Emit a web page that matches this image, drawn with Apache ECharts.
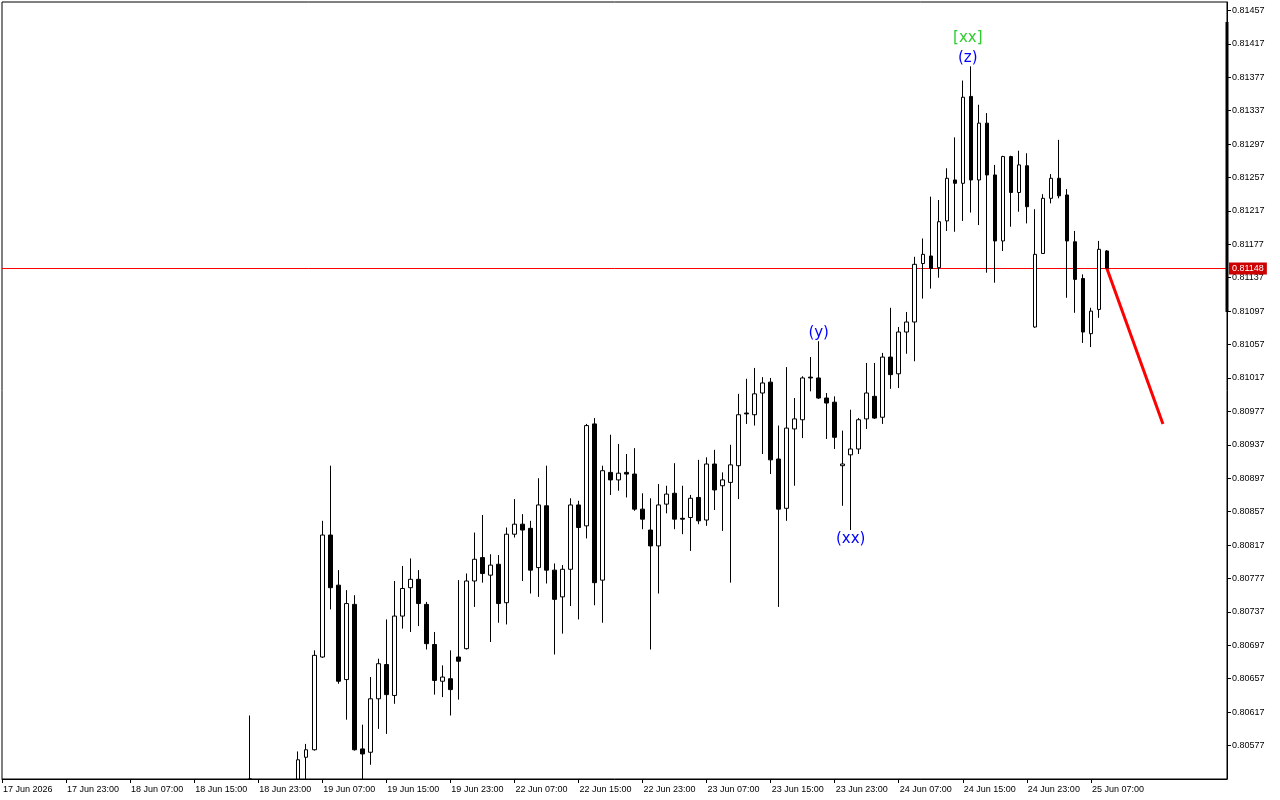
<!DOCTYPE html>
<html><head><meta charset="utf-8">
<script src="https://cdn.jsdelivr.net/npm/echarts@6/dist/echarts.min.js"></script>
<style>html,body{margin:0;padding:0;background:#fff}#c{width:1280px;height:800px}</style>
</head><body><div id="c"></div>
<script>
// ---- data ----
const BASE = 0.80577;             // price of the lowest labelled tick
const firstIndex = 31;            // bar index of the first array entry (hourly bars from 17 Jun 15:00)
const open = [0.80510,null,null,null,null,null,0.80525,0.80563,0.80572,0.80683,0.80829,0.80769,0.80656,0.80746,0.80573,0.80569,0.80633,0.80674,0.80637,0.80732,0.80766,0.80776,0.80746,0.80698,0.80654,0.80657,0.80683,0.80693,0.80774,0.80802,0.80781,0.80794,0.80748,0.80830,0.80842,0.80837,0.80790,0.80864,0.80787,0.80755,0.80788,0.80865,0.80840,0.80962,0.80775,0.80904,0.80895,0.80904,0.80902,0.80860,0.80835,0.80816,0.80866,0.80879,0.80849,0.80850,0.80874,0.80847,0.80914,0.80888,0.80892,0.80912,0.80975,0.80973,0.80999,0.81012,0.80920,0.80861,0.80956,0.80967,0.81018,0.81017,0.80993,0.80988,0.80912,0.80925,0.80932,0.80968,0.80995,0.80970,0.81042,0.81022,0.81072,0.81084,0.81154,0.81163,0.81149,0.81205,0.81254,0.81250,0.81354,0.81254,0.81322,0.81260,0.81181,0.81282,0.81239,0.81271,0.81078,0.81166,0.81232,0.81256,0.81236,0.81180,0.81136,0.81070,0.81099,0.81169];
const high = [0.80613,null,null,null,null,null,0.80570,0.80579,0.80691,0.80846,0.80912,0.80787,0.80763,0.80757,0.80602,0.80659,0.80681,0.80728,0.80774,0.80792,0.80801,0.80787,0.80749,0.80713,0.80673,0.80691,0.80775,0.80783,0.80832,0.80853,0.80806,0.80805,0.80838,0.80872,0.80854,0.80846,0.80897,0.80912,0.80795,0.80793,0.80873,0.80870,0.80962,0.80969,0.80912,0.80949,0.80938,0.80926,0.80933,0.80879,0.80873,0.80890,0.80888,0.80915,0.80888,0.80877,0.80919,0.80922,0.80931,0.80904,0.80937,0.80998,0.81016,0.81029,0.81018,0.81017,0.80960,0.81030,0.80993,0.81019,0.81042,0.81061,0.80999,0.80995,0.80954,0.80979,0.80969,0.81035,0.81035,0.81047,0.81101,0.81078,0.81096,0.81162,0.81184,0.81234,0.81230,0.81268,0.81305,0.81373,0.81390,0.81344,0.81334,0.81272,0.81283,0.81283,0.81289,0.81286,0.81219,0.81237,0.81261,0.81302,0.81243,0.81193,0.81141,0.81101,0.81181,0.81170];
const low = [0.80495,null,null,null,null,null,0.80515,0.80530,0.80571,0.80682,0.80740,0.80651,0.80608,0.80571,0.80525,0.80554,0.80597,0.80591,0.80627,0.80717,0.80713,0.80720,0.80692,0.80638,0.80635,0.80613,0.80632,0.80692,0.80743,0.80772,0.80701,0.80724,0.80722,0.80826,0.80774,0.80759,0.80755,0.80771,0.80686,0.80711,0.80744,0.80728,0.80825,0.80745,0.80724,0.80877,0.80882,0.80874,0.80858,0.80836,0.80692,0.80759,0.80855,0.80836,0.80830,0.80810,0.80842,0.80840,0.80859,0.80834,0.80772,0.80872,0.80962,0.80960,0.80926,0.80902,0.80743,0.80846,0.80888,0.80945,0.81001,0.80992,0.80944,0.80932,0.80864,0.80835,0.80926,0.80956,0.80968,0.80962,0.81004,0.81005,0.81046,0.81037,0.81112,0.81124,0.81137,0.81193,0.81192,0.81205,0.81215,0.81200,0.81143,0.81131,0.81169,0.81198,0.81216,0.81202,0.81077,0.81166,0.81226,0.81232,0.81113,0.81095,0.81059,0.81054,0.81089,0.81148];
const close = [0.80525,null,null,null,null,null,0.80560,0.80572,0.80685,0.80829,0.80766,0.80654,0.80747,0.80572,0.80567,0.80633,0.80675,0.80638,0.80732,0.80765,0.80776,0.80747,0.80699,0.80655,0.80659,0.80644,0.80678,0.80774,0.80800,0.80783,0.80793,0.80747,0.80830,0.80842,0.80835,0.80787,0.80865,0.80787,0.80752,0.80788,0.80865,0.80838,0.80960,0.80772,0.80906,0.80895,0.80903,0.80902,0.80860,0.80848,0.80816,0.80865,0.80878,0.80848,0.80848,0.80873,0.80846,0.80914,0.80883,0.80895,0.80913,0.80973,0.80974,0.80998,0.81011,0.80919,0.80860,0.80957,0.80968,0.81017,0.81017,0.80993,0.80987,0.80946,0.80914,0.80932,0.80967,0.80999,0.80969,0.81042,0.81021,0.81072,0.81084,0.81153,0.81165,0.81148,0.81204,0.81256,0.81250,0.81353,0.81254,0.81322,0.81260,0.81181,0.81282,0.81239,0.81272,0.81222,0.81165,0.81232,0.81256,0.81235,0.81181,0.81135,0.81072,0.81097,0.81171,0.81148];
const barCount = 154;
const xTickLabels = ["17 Jun 2026","17 Jun 23:00","18 Jun 07:00","18 Jun 15:00","18 Jun 23:00","19 Jun 07:00","19 Jun 15:00","19 Jun 23:00","22 Jun 07:00","22 Jun 15:00","22 Jun 23:00","23 Jun 07:00","23 Jun 15:00","23 Jun 23:00","24 Jun 07:00","24 Jun 15:00","24 Jun 23:00","25 Jun 07:00"];
const currentPrice = 0.81148;
const priceLineIdx = [0, 153];
const forecastIdx = [138, 145];
const forecastPrice = [0.81148, 0.80962];
const scaleBarIdx = [153, 153];
const scaleBarPrice = [0.81443, 0.81096];
const annotations = [
  {text:'[xx]', idx:121, at:'high', color:'#2ecc2e', pos:'top', offset:[-3,-20]},
  {text:'(z)',  idx:121, at:'high', color:'#0000ff', pos:'top', offset:[-3,0]},
  {text:'(y)',  idx:102, at:'high', color:'#0000ff', pos:'top', offset:[0,0]},
  {text:'(xx)', idx:106, at:'low',  color:'#0000ff', pos:'bottom', offset:[0,1]}
];

// ---- build ----
const Y_MIN = -40, Y_MAX = 890;
const toPts = p => (p - BASE) * 1e5;
const clampPts = p => Math.max(Y_MIN, toPts(p));   // keep off-scale parts inside the plot frame
const fmtPrice = v => (BASE + v / 1e5).toFixed(5);
const MON = ['Jan','Feb','Mar','Apr','May','Jun','Jul','Aug','Sep','Oct','Nov','Dec'];
const categories = [];
let t = Date.UTC(2026, 5, 17, 15);
while (categories.length < barCount) {
  const d = new Date(t);
  const wd = d.getUTCDay();
  if (wd !== 0 && wd !== 6) {
    categories.push(d.getUTCDate() + ' ' + MON[d.getUTCMonth()] + ' ' + String(d.getUTCHours()).padStart(2,'0') + ':00');
  }
  t += 3600000;
}
const labelByCat = {};
xTickLabels.forEach((l, i) => { labelByCat[categories[i * 8]] = l; });
const lastLabelIdx = (xTickLabels.length - 1) * 8;

const candleData = categories.map((c, i) => {
  const j = i - firstIndex;
  if (j < 0 || j >= open.length || open[j] == null) return ['-','-','-','-'];
  const o = toPts(open[j]), cl = toPts(close[j]);
  let oo = clampPts(open[j]), cc = clampPts(close[j]);
  if (oo === cc && o !== cl) { if (cl > o) oo = cc - 0.01; else cc = oo - 0.01; }
  return [oo, cc, clampPts(low[j]), clampPts(high[j])];
});

const annData = annotations.map(a => {
  const j = a.idx - firstIndex;
  const p = a.at === 'high' ? high[j] : low[j];
  return {
    value: [a.idx, toPts(p)],
    itemStyle: {opacity: 1},
    label: {show:true, formatter:a.text, position:a.pos, distance:1, offset:a.offset, opacity:1,
            color:a.color, fontSize:15, fontFamily:'DejaVu Sans', lineHeight:15}
  };
});

const FONT = 'Liberation Sans';
const chart = echarts.init(document.getElementById('c'), null, {renderer:'canvas'});
chart.setOption({
  animation: false,
  backgroundColor: '#ffffff',
  grid: {left:2, right:53, top:2, bottom:21, show:true, borderColor:'#000', borderWidth:1, backgroundColor:'#fff'},
  xAxis: {
    type:'category', data:categories, boundaryGap:false,
    axisLine:{show:true, onZero:false, lineStyle:{color:'#000', width:1}},
    axisTick:{show:true, length:4, lineStyle:{color:'#000'},
      interval:(i) => i % 8 === 0 && i <= lastLabelIdx},
    axisLabel:{show:true, interval:(i) => i % 8 === 0 && i <= lastLabelIdx,
      formatter:(v) => labelByCat[v] || '', align:'left', margin:6, padding:[0,0,0,1],
      color:'#000', fontSize:9, fontFamily:FONT},
    splitLine:{show:false}
  },
  yAxis: {
    type:'value', position:'right', scale:false,
    min:Y_MIN, max:Y_MAX, interval:40,
    axisLine:{show:true, onZero:false, lineStyle:{color:'#000', width:1}},
    axisTick:{show:true, length:4, inside:false, lineStyle:{color:'#000'}},
    axisLabel:{show:true, showMinLabel:false, showMaxLabel:false, margin:5, formatter:fmtPrice,
      color:'#000', fontSize:9, fontFamily:FONT},
    splitLine:{show:false}
  },
  series: [
    {
      type:'line', data:priceLineIdx.map(x => [x, toPts(currentPrice)]),
      showSymbol:false, symbol:'none', clip:false, color:'#ff0000',
      lineStyle:{color:'#ff0000', width:1, opacity:1}, z:1, silent:true,
      endLabel:{show:true, distance:2, formatter:() => currentPrice.toFixed(5),
        color:'#ffffff', backgroundColor:'#cc0000', padding:[2,3,1,3], fontSize:9, fontFamily:FONT}
    },
    {
      type:'candlestick', data:candleData, barWidth:4, clip:true, z:3,
      itemStyle:{color:'#ffffff', color0:'#000000', borderColor:'#000000', borderColor0:'#000000', borderWidth:1}
    },
    {
      type:'line', data:forecastIdx.map((x, i) => [x, toPts(forecastPrice[i])]),
      showSymbol:false, symbol:'none', color:'#ff0000', lineStyle:{color:'#ff0000', width:3}, z:5
    },
    {
      type:'line', data:scaleBarIdx.map((x, i) => [x, toPts(scaleBarPrice[i])]),
      showSymbol:false, symbol:'none', clip:false, color:'#000', lineStyle:{color:'#000000', width:3}, z:6
    },
    {
      type:'scatter', data:annData, symbolSize:0, silent:true, z:10
    }
  ]
});
</script></body></html>
